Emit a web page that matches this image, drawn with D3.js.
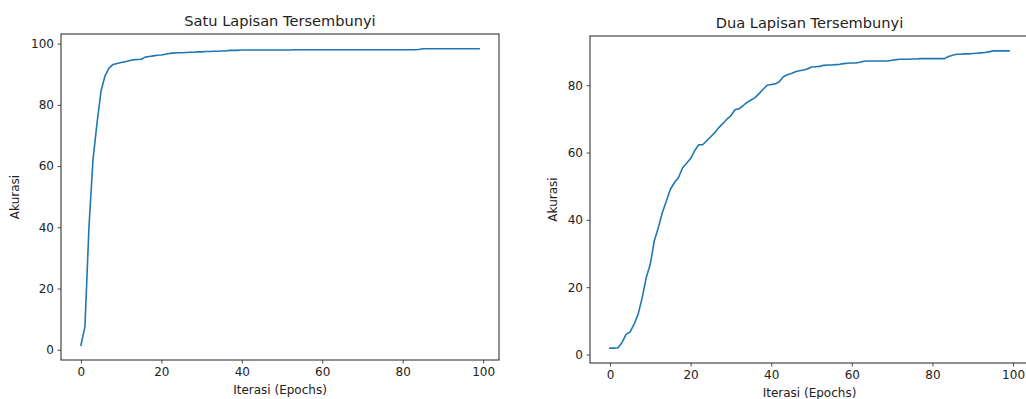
<!DOCTYPE html>
<html>
<head>
<meta charset="utf-8">
<script src="https://cdn.jsdelivr.net/npm/d3@7/dist/d3.min.js"></script>
<style>
  html, body { margin: 0; padding: 0; background: #fff; }
  svg { display: block; }
  text { font-family: "DejaVu Sans", sans-serif; fill: #222; }
</style>
</head>
<body>
<svg id="chart" width="1026" height="399"></svg>
<script>
// ---- data ----
const epochs = d3.range(100);
const titles = ["Satu Lapisan Tersembunyi", "Dua Lapisan Tersembunyi"];
const xLabel = "Iterasi (Epochs)";
const yLabel = "Akurasi";
const xTicks = [0, 20, 40, 60, 80, 100];
const yTicksOne = [0, 20, 40, 60, 80, 100];
const yTicksTwo = [0, 20, 40, 60, 80];

const accOne = [
  1.5, 7.5, 40, 62, 74, 84.5, 89.5, 92, 93.2, 93.5,
  93.8, 94.1, 94.4, 94.7, 94.8, 94.9, 95.6, 95.8, 96.0, 96.2,
  96.3, 96.5, 96.8, 96.9, 97.0, 97.0, 97.1, 97.2, 97.2, 97.3,
  97.3, 97.4, 97.4, 97.5, 97.5, 97.6, 97.6, 97.8, 97.8, 97.8,
  97.9, 97.9, 97.9, 97.9, 97.9, 97.9, 97.9, 97.9, 97.9, 97.9,
  97.9, 97.9, 97.9, 98.0, 98.0, 98.0, 98.0, 98.0, 98.0, 98.0,
  98.0, 98.0, 98.0, 98.0, 98.0, 98.0, 98.0, 98.0, 98.0, 98.0,
  98.0, 98.0, 98.0, 98.0, 98.0, 98.0, 98.0, 98.0, 98.0, 98.0,
  98.0, 98.0, 98.0, 98.0, 98.1, 98.3, 98.3, 98.3, 98.3, 98.3,
  98.3, 98.3, 98.3, 98.3, 98.3, 98.3, 98.3, 98.3, 98.3, 98.3
];

const accTwo = [
  1.9, 1.9, 2.0, 3.6, 6.0, 6.7, 9.0, 12.0, 16.9, 22.9,
  26.8, 33.8, 37.7, 42.2, 45.6, 49.1, 51.1, 52.6, 55.4, 56.8,
  58.2, 60.5, 62.3, 62.3, 63.5, 64.7, 65.9, 67.4, 68.6, 69.9,
  70.9, 72.7, 73.0, 73.9, 74.9, 75.6, 76.3, 77.5, 78.8, 80.0,
  80.2, 80.4, 81.0, 82.5, 83.1, 83.5, 84.0, 84.3, 84.5, 84.8,
  85.4, 85.5, 85.6, 85.9, 86.0, 86.0, 86.1, 86.2, 86.4, 86.5,
  86.6, 86.6, 86.8, 87.1, 87.2, 87.2, 87.2, 87.2, 87.2, 87.2,
  87.4, 87.6, 87.7, 87.7, 87.7, 87.8, 87.8, 87.9, 87.9, 87.9,
  87.9, 87.9, 87.9, 87.9, 88.5, 88.9, 89.2, 89.2, 89.3, 89.3,
  89.4, 89.5, 89.6, 89.7, 89.9, 90.2, 90.2, 90.2, 90.2, 90.2
];

// ---- layout ----
const svg = d3.select("#chart");
const panels = [
  { title: titles[0], values: accOne, yTicks: yTicksOne, left: 61, right: 499, top: 34, bottom: 360, ylabX: 15 },
  { title: titles[1], values: accTwo, yTicks: yTicksTwo, left: 590, right: 1029, top: 36, bottom: 363, ylabX: 553 }
];

function padded(ext) {
  const r = ext[1] - ext[0];
  return [ext[0] - 0.05 * r, ext[1] + 0.05 * r];
}

panels.forEach(p => {
  const x = d3.scaleLinear().domain(padded(d3.extent(epochs))).range([p.left, p.right]);
  const y = d3.scaleLinear().domain(padded(d3.extent(p.values))).range([p.bottom, p.top]);
  const g = svg.append("g");

  const xa = g.append("g")
    .attr("transform", `translate(0,${p.bottom})`)
    .call(d3.axisBottom(x).tickValues(xTicks).tickSize(3.5).tickPadding(3.5).tickFormat(d3.format("d")));
  const ya = g.append("g")
    .attr("transform", `translate(${p.left},0)`)
    .call(d3.axisLeft(y).tickValues(p.yTicks).tickSize(3.5).tickPadding(3.5).tickFormat(d3.format("d")));
  [xa, ya].forEach(a => {
    a.select(".domain").remove();
    a.selectAll(".tick line").attr("stroke", "#222").attr("stroke-width", 0.8);
    a.selectAll(".tick text").style("font-size", "12px").attr("fill", "#222");
  });

  const line = d3.line().x((d, i) => x(epochs[i])).y(d => y(d));
  g.append("path")
    .datum(p.values)
    .attr("d", line)
    .attr("fill", "none")
    .attr("stroke", "#1f77b4")
    .attr("stroke-width", 1.6)
    .attr("stroke-linejoin", "round")
    .attr("stroke-linecap", "square");

  g.append("rect")
    .attr("x", p.left).attr("y", p.top)
    .attr("width", p.right - p.left).attr("height", p.bottom - p.top)
    .attr("fill", "none").attr("stroke", "#222").attr("stroke-width", 1);

  g.append("text")
    .attr("x", (p.left + p.right) / 2).attr("y", p.top - 8)
    .attr("text-anchor", "middle").style("font-size", "14.6px")
    .text(p.title);

  g.append("text")
    .attr("x", (p.left + p.right) / 2).attr("y", p.bottom + 34)
    .attr("text-anchor", "middle").style("font-size", "12px")
    .text(xLabel);

  g.append("text")
    .attr("transform", `translate(${p.ylabX + 4},${(p.top + p.bottom) / 2}) rotate(-90)`)
    .attr("text-anchor", "middle").style("font-size", "12px")
    .text(yLabel);
});
</script>
</body>
</html>
